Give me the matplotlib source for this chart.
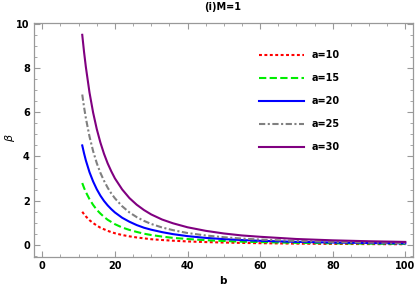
import matplotlib
matplotlib.use("Agg")
import matplotlib.pyplot as plt
from matplotlib.ticker import MultipleLocator

# Data
b = [11, 11.5, 12, 13, 14, 15, 16, 17, 18, 19, 20, 22, 24, 26, 28, 30, 33, 36, 40,
     45, 50, 55, 60, 70, 80, 90, 100]
beta_a10 = [1.50, 1.39, 1.29, 1.12, 0.99, 0.88, 0.78, 0.71, 0.64, 0.58, 0.53, 0.45, 0.39,
            0.34, 0.30, 0.26, 0.224, 0.193, 0.16, 0.131, 0.11, 0.093, 0.080, 0.061, 0.049,
            0.040, 0.033]
beta_a15 = [2.80, 2.58, 2.39, 2.07, 1.81, 1.59, 1.42, 1.27, 1.14, 1.04, 0.94, 0.79, 0.68,
            0.59, 0.51, 0.45, 0.38, 0.32, 0.27, 0.216, 0.18, 0.150, 0.13, 0.097, 0.076,
            0.061, 0.050]
beta_a20 = [4.50, 4.14, 3.82, 3.29, 2.87, 2.52, 2.23, 1.99, 1.79, 1.62, 1.47, 1.23, 1.05,
            0.90, 0.78, 0.69, 0.58, 0.49, 0.40, 0.32, 0.265, 0.222, 0.189, 0.141, 0.111,
            0.088, 0.072]
beta_a25 = [6.80, 6.23, 5.73, 4.90, 4.24, 3.70, 3.26, 2.90, 2.59, 2.33, 2.11, 1.75, 1.47,
            1.26, 1.09, 0.95, 0.79, 0.67, 0.54, 0.43, 0.35, 0.29, 0.245, 0.18, 0.14,
            0.11, 0.090]
beta_a30 = [9.50, 8.72, 8.04, 6.89, 5.98, 5.24, 4.63, 4.12, 3.69, 3.33, 3.01, 2.51, 2.12,
            1.82, 1.58, 1.38, 1.15, 0.98, 0.80, 0.64, 0.52, 0.43, 0.37, 0.27, 0.21,
            0.168, 0.138]
labels = ["a=10", "a=15", "a=20", "a=25", "a=30"]
colors = ["#FF0000", "#00EE00", "#0000FF", "#808080", "#800080"]
styles = [(0, (1.4, 1.2)), (0, (3.5, 1.6)), "-", (0, (3.0, 1.2, 1.0, 1.2)), "-"]
series = [beta_a10, beta_a15, beta_a20, beta_a25, beta_a30]

fig = plt.figure(figsize=(4.15, 2.88), dpi=100)
ax = fig.add_axes([34/415, 1-256.7/288, (413.3-34)/415, (256.7-23.3)/288])

for ys, lab, c, ls in zip(series, labels, colors, styles):
    ax.plot(b, ys, color=c, linestyle=ls, linewidth=1.5, label=lab,
            solid_joinstyle="round", dash_joinstyle="round")

ax.set_xlim(-2.29, 102.2)
ax.set_ylim(-0.53, 10.02)
ax.xaxis.set_major_locator(MultipleLocator(20))
ax.xaxis.set_minor_locator(MultipleLocator(5))
ax.yaxis.set_major_locator(MultipleLocator(2))
ax.yaxis.set_minor_locator(MultipleLocator(0.5))
ax.tick_params(which="both", direction="in", top=True, right=True, color="#999999",
               labelsize=7, pad=3)
ax.tick_params(which="major", length=4, width=0.8)
ax.tick_params(which="minor", length=2, width=0.6)
for lbl in ax.get_xticklabels() + ax.get_yticklabels():
    lbl.set_fontweight("bold")
for sp in ax.spines.values():
    sp.set_color("#999999")
    sp.set_linewidth(0.9)

fig.text(223/415, 1-7/288, "(i)M=1", fontsize=7, fontweight="bold",
         ha="center", va="center")
fig.text(223/415, 1-281/288, "b", fontsize=7.5, fontweight="bold",
         ha="center", va="center")
fig.text(10/415, 1-138/288, r"$\beta$", fontsize=8, rotation=90,
         ha="center", va="center")

leg = ax.legend(loc="upper left", bbox_to_anchor=(259/415, 1-50/288),
                bbox_transform=fig.transFigure, frameon=False,
                fontsize=7, handlelength=4.6, handletextpad=0.8,
                labelspacing=1.35, borderpad=0, borderaxespad=0)
for t in leg.get_texts():
    t.set_fontweight("bold")

fig.savefig("out.png", dpi=100)
